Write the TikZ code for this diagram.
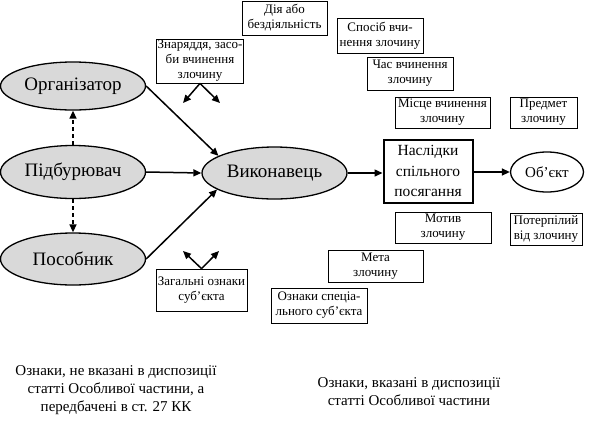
\documentclass[tikz,border=0pt]{standalone}
\usepackage{fontspec}
\setmainfont{Liberation Serif}
\usetikzlibrary{arrows.meta,shapes.geometric}
\begin{document}
\begin{tikzpicture}[x=1pt,y=-1pt,
  oval/.style={ellipse, draw, line width=1.3pt, fill=gray!30, minimum width=145pt, minimum height=50pt, inner sep=0pt, font=\fontsize{19}{22}\selectfont},
  sbox/.style={draw, line width=0.8pt, align=center, inner sep=0pt, font=\fontsize{13}{15}\selectfont},
  arr/.style={line width=1.5pt, -{Triangle[length=8pt,width=7pt]}},
  darr/.style={arr, dash pattern=on 4pt off 3pt},
  note/.style={align=center, inner sep=0pt, font=\fontsize{15}{18}\selectfont}]
\useasboundingbox (0,0) rectangle (591,426);

\node[oval, minimum height=48pt] (org) at (73,86) {Організатор};
\node[oval, minimum height=53pt] (pid) at (73,172) {Підбурювач};
\node[oval, minimum height=52pt] (pos) at (73,259) {Пособник};
\node[oval, minimum height=52pt] (vyk) at (274.5,173) {Виконавець};
\node[draw, line width=2pt, minimum width=89pt, minimum height=63pt, inner sep=0pt, align=center, font=\fontsize{15.5}{20.5}\selectfont] (nas) at (428,171) {Наслідки\\спільного\\посягання};
\node[ellipse, draw, line width=1.3pt, fill=white, minimum width=73pt, minimum height=40pt, inner sep=0pt, font=\fontsize{15}{17}\selectfont] (obj) at (547,172) {Об’єкт};

\node[sbox, minimum width=85pt, minimum height=34pt] (dia) at (284.5,18) {Дія або\\бездіяльність};
\node[sbox, minimum width=87pt, minimum height=44pt] (zn) at (200,61) {Знаряддя, засо-\\би вчинення\\злочину};
\node[sbox, minimum width=86pt, minimum height=35pt] (sp) at (380,35.5) {Спосіб вчи-\\нення злочину};
\node[sbox, minimum width=86pt, minimum height=33pt] (chas) at (410,73.5) {Час вчинення\\злочину};
\node[sbox, minimum width=95pt, minimum height=31pt] (mis) at (442.5,112.5) {Місце вчинення\\злочину};
\node[sbox, minimum width=67pt, minimum height=31pt] (pr) at (543.5,112.5) {Предмет\\злочину};
\node[sbox, minimum width=96pt, minimum height=31pt] (mot) at (443,227.5) {Мотив\\злочину};
\node[sbox, minimum width=72pt, minimum height=32pt] (pot) at (546,229) {Потерпілий\\від злочину};
\node[sbox, minimum width=95pt, minimum height=32pt] (meta) at (375.5,266) {Мета\\злочину};
\node[sbox, minimum width=96pt, minimum height=35pt] (ozn) at (319,305.5) {Ознаки спеціа-\\льного суб’єкта};
\node[sbox, minimum width=91pt, minimum height=42pt] (zag) at (201.5,290) {Загальні ознаки\\суб’єкта};

\node[note] (left) at (116,390) {Ознаки, не вказані в диспозиції\\статті Особливої частини, а\\передбачені в ст. 27 КК};
\node[note] (right) at (409,392) {Ознаки, вказані в диспозиції\\статті Особливої частини};

\coordinate (zn1) at (183,103);
\coordinate (zn2) at (220,103);
\coordinate (zg1) at (183,251);
\coordinate (zg2) at (219,251);

\draw[arr] (org.east) -- (vyk.163);
\draw[arr] (pid.east) -- (vyk.west);
\draw[arr] (pos.east) -- (vyk.196);
\draw[darr] (pid.north) -- (org.south);
\draw[darr] (pid.south) -- (pos.north);
\draw[arr] (vyk.east) -- (nas.west |- vyk.east);
\draw[arr] (nas.east |- obj.west) -- (obj.west);
\draw[arr] (zn.south) -- (zn1);
\draw[arr] (zn.south) -- (zn2);
\draw[arr] (zag.north) -- (zg1);
\draw[arr] (zag.north) -- (zg2);
\end{tikzpicture}
\end{document}
